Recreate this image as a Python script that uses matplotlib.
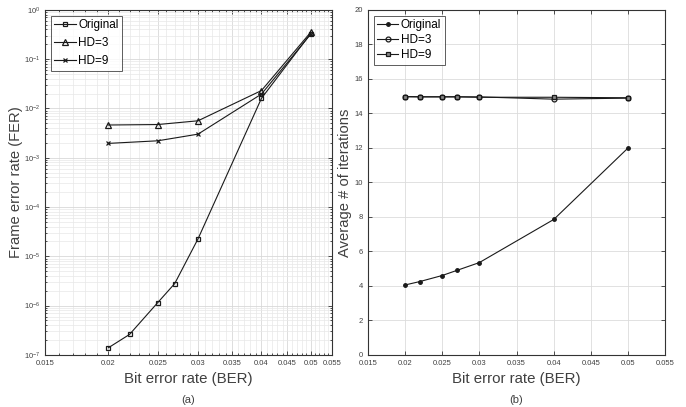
import numpy as np
import matplotlib
matplotlib.use("Agg")
import matplotlib.pyplot as plt
from matplotlib.ticker import FixedLocator, FixedFormatter, LogLocator, LogFormatterMathtext, MultipleLocator, NullFormatter

plt.rcParams["font.family"] = ["Liberation Sans", "DejaVu Sans"]

# ── data ─────────────────────────────────────────────────────────────────────
ber_orig = [0.02, 0.022, 0.025, 0.027, 0.03, 0.04, 0.05]
ber_hd   = [0.02, 0.025, 0.03, 0.04, 0.05]

fer_orig = [1.4e-7, 2.6e-7, 1.15e-6, 2.8e-6, 2.25e-5, 1.6e-2, 0.33]
fer_hd3  = [4.6e-3, 4.7e-3, 5.6e-3, 2.3e-2, 0.35]
fer_hd9  = [1.95e-3, 2.2e-3, 3.0e-3, 1.95e-2, 0.32]

it_orig = [4.05, 4.25, 4.6, 4.9, 5.35, 7.85, 12.0]
it_hd3  = [14.97, 14.96, 14.96, 14.96, 14.95, 14.82, 14.88]
it_hd9  = [14.96, 14.95, 14.95, 14.95, 14.93, 14.93, 14.90]

xticks = [0.015, 0.02, 0.025, 0.03, 0.035, 0.04, 0.045, 0.05, 0.055]
xtick_labels = ["0.015", "0.02", "0.025", "0.03", "0.035", "0.04", "0.045", "0.05", "0.055"]

LC = "#1a1a1a"
TXT = "#404040"

fig = plt.figure(figsize=(6.86, 4.07), dpi=100)
ax1 = fig.add_axes([0.0656, 0.128, 0.418, 0.848])
ax2 = fig.add_axes([0.536, 0.128, 0.434, 0.848])

# ── (a) FER ──────────────────────────────────────────────────────────────────
ax1.set_xscale("log")
ax1.set_yscale("log")
ax1.plot(ber_orig, fer_orig, "-s", color=LC, lw=0.8, ms=3.5, mfc="none", mew=0.9, label="Original")
ax1.plot(ber_hd, fer_hd3, "-^", color=LC, lw=0.8, ms=4, mfc="none", mew=0.9, label="HD=3")
ax1.plot(ber_hd, fer_hd9, "-x", color=LC, lw=0.8, ms=3, mew=0.9, label="HD=9")
ax1.set_xlim(0.015, 0.055)
ax1.set_ylim(1e-7, 1)
ax1.xaxis.set_major_locator(FixedLocator(xticks))
ax1.xaxis.set_major_formatter(FixedFormatter(xtick_labels))
ax1.xaxis.set_minor_locator(FixedLocator(np.arange(0.016, 0.0551, 0.001)))
ax1.xaxis.set_minor_formatter(NullFormatter())
ax1.yaxis.set_major_locator(LogLocator(base=10, numticks=10))
ax1.yaxis.set_major_formatter(LogFormatterMathtext())
ax1.yaxis.set_minor_locator(LogLocator(base=10, subs=np.arange(2, 10), numticks=20))
ax1.yaxis.set_minor_formatter(NullFormatter())
ax1.grid(True, which="major", color="#d8d8d8", lw=0.6)
ax1.grid(True, which="minor", color="#e8e8e8", lw=0.5)
ax1.set_ylabel("Frame error rate (FER)", fontsize=10.6, color=TXT, labelpad=0.5)

# ── (b) iterations ───────────────────────────────────────────────────────────
ax2.plot(ber_orig, it_orig, "-o", color=LC, lw=0.8, ms=2.5, label="Original")
ax2.plot(ber_orig, it_hd3, "-o", color=LC, lw=0.8, ms=3.5, mfc="none", mew=0.9, label="HD=3")
ax2.plot(ber_orig, it_hd9, "-s", color=LC, lw=0.8, ms=3, mfc="#888888", mew=0.9, label="HD=9")
ax2.set_xlim(0.015, 0.055)
ax2.set_ylim(0, 20)
ax2.xaxis.set_major_locator(FixedLocator(xticks))
ax2.xaxis.set_major_formatter(FixedFormatter(xtick_labels))
ax2.yaxis.set_major_locator(MultipleLocator(2))
ax2.grid(True, color="#dcdcdc", lw=0.6)
ax2.set_ylabel("Average # of iterations", fontsize=10.6, color=TXT, labelpad=1.5)

for ax, cap, lsp in [(ax1, "(a)", 0.5), (ax2, "(b)", 0.25)]:
    ax.set_axisbelow(True)
    ax.tick_params(which="both", direction="in", top=True, right=True, labelsize=5.5,
                   labelcolor=TXT, color="#333333", width=0.6)
    ax.tick_params(which="major", length=3)
    ax.tick_params(which="minor", length=1.5)
    for s in ax.spines.values():
        s.set_color("#333333")
        s.set_linewidth(0.8)
    ax.set_xlabel("Bit error rate (BER)", fontsize=10.8, color=TXT, labelpad=4)
    ax.text(0.5, -0.115, cap, transform=ax.transAxes, ha="center", va="top", fontsize=8, color=TXT)
    leg = ax.legend(loc="upper left", fontsize=8.5, frameon=True, fancybox=False, borderpad=0.3,
                    labelspacing=lsp, handlelength=1.8, handletextpad=0.2, borderaxespad=0.5)
    leg.get_frame().set_edgecolor("#333333")
    leg.get_frame().set_linewidth(0.7)

fig.savefig("out.png", dpi=100)
